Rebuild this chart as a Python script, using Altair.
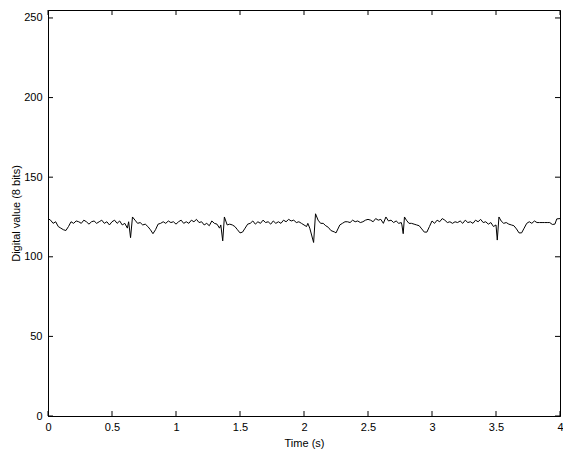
import altair as alt
import pandas as pd

time_s = [0.00, 0.02, 0.04, 0.06, 0.08, 0.10, 0.12, 0.14, 0.16, 0.18,
          0.20, 0.22, 0.24, 0.26, 0.28, 0.30, 0.32, 0.34, 0.36, 0.38,
          0.40, 0.42, 0.44, 0.46, 0.48, 0.50, 0.52, 0.54, 0.56, 0.58,
          0.60, 0.62, 0.63, 0.645, 0.66, 0.68, 0.70, 0.72, 0.74, 0.76,
          0.78, 0.80, 0.82, 0.84, 0.86, 0.88, 0.90, 0.92, 0.94, 0.96,
          0.98, 1.00, 1.02, 1.04, 1.06, 1.08, 1.10, 1.12, 1.14, 1.16,
          1.18, 1.20, 1.22, 1.24, 1.26, 1.28, 1.30, 1.32, 1.34, 1.35,
          1.365, 1.378, 1.40, 1.42, 1.44, 1.46, 1.48, 1.50, 1.52, 1.54,
          1.56, 1.58, 1.60, 1.62, 1.64, 1.66, 1.68, 1.70, 1.72, 1.74,
          1.76, 1.78, 1.80, 1.82, 1.84, 1.86, 1.88, 1.90, 1.92, 1.94,
          1.96, 1.98, 2.00, 2.02, 2.03, 2.045, 2.075, 2.09, 2.11, 2.13,
          2.15, 2.17, 2.19, 2.21, 2.24, 2.25, 2.28, 2.30, 2.32, 2.34,
          2.36, 2.38, 2.40, 2.42, 2.44, 2.46, 2.48, 2.50, 2.52, 2.54,
          2.56, 2.58, 2.60, 2.62, 2.64, 2.66, 2.68, 2.70, 2.72, 2.74,
          2.76, 2.765, 2.775, 2.785, 2.80, 2.82, 2.84, 2.86, 2.88, 2.90,
          2.92, 2.94, 2.96, 2.98, 3.00, 3.02, 3.04, 3.06, 3.08, 3.10,
          3.12, 3.14, 3.16, 3.18, 3.20, 3.22, 3.24, 3.26, 3.28, 3.30,
          3.32, 3.34, 3.36, 3.38, 3.40, 3.42, 3.44, 3.46, 3.48, 3.50,
          3.51, 3.523, 3.54, 3.56, 3.58, 3.60, 3.62, 3.64, 3.66, 3.68,
          3.70, 3.72, 3.74, 3.76, 3.78, 3.80, 3.82, 3.84, 3.86, 3.88,
          3.90, 3.92, 3.94, 3.96, 3.975, 4.00]

digital_value = [124, 123, 121, 122, 119, 118, 117, 116.5, 119, 122,
                 121, 122.5, 122, 121, 123, 122, 120.5, 122, 122.5, 121,
                 122, 123, 121, 122, 120, 122, 123, 121, 122.5, 120,
                 121, 118, 122, 112, 125, 123, 121, 121.5, 120, 120.5,
                 119, 117, 114.5, 117, 120.5, 121, 122, 121, 122.5, 121.5,
                 122, 120.5, 122, 123, 121, 122, 121, 123, 122, 123.5,
                 121.5, 122, 120, 121, 119.5, 122.5, 121, 120.5, 118, 120,
                 110, 125, 120, 120.5, 120, 119, 117, 115, 115.5, 118,
                 120.5, 121, 122.5, 120.5, 122, 121, 123, 121.5, 122, 120.5,
                 122.5, 121, 122, 121, 123, 122, 123.5, 122.5, 123, 121.5,
                 122, 121, 120, 119, 121, 118, 109, 127, 123, 121,
                 121, 119.5, 118.5, 116.5, 115.5, 115, 120, 121, 122, 122,
                 121.5, 123, 122, 122.5, 121.5, 122, 123, 123.5, 123, 122,
                 124, 123, 123.5, 121, 125, 122.5, 123, 121.5, 122.5, 121,
                 121.5, 120, 114.5, 125, 123, 121, 121, 120.5, 120, 119.5,
                 117.5, 115.5, 115.5, 119, 122.5, 121, 123, 122, 124, 123,
                 121.5, 122, 121, 122, 121.5, 122.5, 121, 123, 121.5, 122,
                 121, 123, 122, 123.5, 121.5, 122, 120.5, 121.5, 119, 120,
                 110.5, 125, 122.5, 121, 121.5, 120.5, 120, 119.5, 117.5, 115,
                 115, 118, 121, 122, 121, 122.5, 121.5, 121.5, 121.5, 121.5,
                 121.5, 121.5, 120.3, 120.5, 123.8, 124]

x_ticks = [0, 0.5, 1, 1.5, 2, 2.5, 3, 3.5, 4]
y_ticks = [0, 50, 100, 150, 200, 250]

W, H = 512, 406
FONT = "Liberation Sans"

df = pd.DataFrame({"t": time_s, "v": digital_value})
xt = pd.DataFrame({"t": x_ticks})
yt = pd.DataFrame({"v": y_ticks})

xs = alt.Scale(domain=[0, 4], nice=False, zero=False)
ys = alt.Scale(domain=[0, 255], nice=False)

line = alt.Chart(df).mark_line(color="black", strokeWidth=1).encode(
    x=alt.X("t:Q", scale=xs, title="Time (s)",
            axis=alt.Axis(values=x_ticks, format="~g", tickSize=0, labelPadding=5,
                          titlePadding=5, grid=False, labelFlush=False)),
    y=alt.Y("v:Q", scale=ys, title="Digital value (8 bits)",
            axis=alt.Axis(values=y_ticks, format="d", tickSize=0, labelPadding=6,
                          titlePadding=2, grid=False, labelFlush=False)),
)

xb = alt.Chart(xt).mark_rule(color="black", strokeWidth=1).encode(
    x=alt.X("t:Q", scale=xs), y=alt.value(H), y2=alt.value(H - 5))
xtop = alt.Chart(xt).mark_rule(color="black", strokeWidth=1).encode(
    x=alt.X("t:Q", scale=xs), y=alt.value(0), y2=alt.value(5))
yl = alt.Chart(yt).mark_rule(color="black", strokeWidth=1).encode(
    y=alt.Y("v:Q", scale=ys), x=alt.value(0), x2=alt.value(5))
yr = alt.Chart(yt).mark_rule(color="black", strokeWidth=1).encode(
    y=alt.Y("v:Q", scale=ys), x=alt.value(W), x2=alt.value(W - 5))

chart = alt.layer(line, xb, xtop, yl, yr).properties(
    width=W, height=H,
    autosize=alt.AutoSizeParams(type="none"),
    padding={"left": 40, "top": 2, "right": 3, "bottom": 37},
).configure_view(
    stroke="black", strokeWidth=1
).configure_axis(
    domainColor="black", domainWidth=1, labelColor="black", titleColor="black",
    labelFont=FONT, titleFont=FONT, labelFontSize=11, titleFontSize=11,
    titleFontWeight="normal",
)

chart.save("out.html", embed_options={"renderer": "svg", "actions": False})
